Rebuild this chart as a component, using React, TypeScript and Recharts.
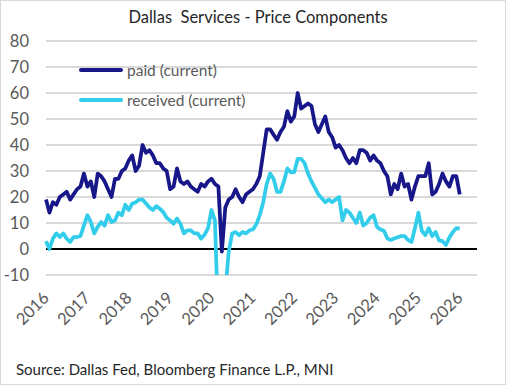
import React from "react";
import { LineChart, Line, XAxis, YAxis, CartesianGrid, ReferenceLine } from "recharts";

// monthly index: 0 = Jan 2016
const paid = [
  19, 14, 18, 17, 20, 21, 22, 19, 21, 23, 24, 29,
  24, 26, 20, 29, 28, 26, 23, 20, 27, 27, 30, 31,
  34, 36, 30, 32, 40, 37, 38, 36, 33, 33, 31, 30,
  23, 24, 31, 26, 25, 26, 24, 23, 22, 25, 24, 26,
  27, 25, 24, -1, 16, 19, 20, 23, 20, 18, 21, 22,
  23, 25, 28, 37, 46, 46, 44, 42, 45, 47, 53, 49,
  51, 60, 54, 55, 56, 55, 48, 45, 48, 51, 45, 43,
  39, 40, 38, 35, 33, 35, 33, 38, 38, 37, 34, 36,
  34, 33, 30, 28, 21, 25, 23, 29, 24, 25, 19, 24,
  28, 28, 28, 33, 21, 22, 25, 29, 26, 24, 28, 28,
  21,
];

const received = [
  3, 0, 4, 6, 4.6, 6, 4, 2.7, 4.6, 4.6, 5, 9,
  13, 10.4, 6, 8.5, 10.4, 9, 13, 10.4, 11, 14, 13, 17,
  15, 17.4, 18, 19, 19, 17.5, 16, 15, 16.5, 15.5, 14.2, 12,
  11, 9.7, 11.7, 9.7, 6, 7.2, 7.2, 6, 6, 4, 5.5, 8,
  15, 11, -30, -28, -16, -1, 6, 6.5, 5.3, 6.5, 6, 7.2,
  7.5, 9.5, 13, 18, 25, 29, 27, 22, 22, 26, 31, 29.5,
  29.6, 34.7, 34.7, 33, 29, 26, 23.5, 21, 19.5, 18, 19, 18,
  19, 20, 11, 15, 14, 12, 10, 14, 9, 10, 12, 13,
  8.5, 7.5, 7, 4, 3.5, 4, 4.5, 5, 5, 3.5, 2.7, 8,
  14, 7, 5.3, 8, 5, 6.5, 3.3, 3, 1.5, 4.5, 6.5, 8,
  7.8,
];

const yearTicks = [0, 12, 24, 36, 48, 60, 72, 84, 96, 108, 120];
const yTicks = [-10, 0, 10, 20, 30, 40, 50, 60, 70, 80];

const seriesNames = { paid: "paid (current)", received: "received (current)" };
const PAID_COLOR = "#17178a";
const RECEIVED_COLOR = "#33cdec";
const FONT = "Lato, 'Open Sans', sans-serif";

const data = paid.map((v, i) => ({ m: i, paid: v, received: received[i] }));

function YearTick(props: any) {
  const { x, y, payload } = props;
  const ax = x + 4;
  const ay = y + 24;
  return (
    <text
      x={ax}
      y={ay}
      transform={`rotate(-45, ${ax}, ${ay})`}
      textAnchor="end"
      fill="#595959"
      fontSize={16.5}
      fontFamily={FONT}
    >
      {2016 + payload.value / 12}
    </text>
  );
}

function LegendBox() {
  const rows = [
    { label: seriesNames.paid, color: PAID_COLOR },
    { label: seriesNames.received, color: RECEIVED_COLOR },
  ];
  return (
    <div style={{ position: "absolute", left: 78, top: 55 }}>
      {rows.map((r) => (
        <div key={r.label} style={{ display: "flex", alignItems: "center", height: 30 }}>
          <svg width={46} height={8} style={{ marginRight: 3 }}>
            <line x1={3} y1={4} x2={43} y2={4} stroke={r.color} strokeWidth={4} strokeLinecap="round" />
          </svg>
          <span style={{ fontFamily: FONT, fontSize: 15.5, color: "#595959" }}>{r.label}</span>
        </div>
      ))}
    </div>
  );
}

export default function App() {
  return (
    <div style={{ position: "absolute", left: 0, top: 0, width: 506, height: 385, background: "#fff" }}>
      <div
        style={{
          position: "absolute",
          top: 7,
          left: 0,
          width: 516,
          textAlign: "center",
          fontFamily: FONT,
          fontSize: 16.5,
          color: "#262626",
          whiteSpace: "pre",
        }}
      >
        {"Dallas  Services - Price Components"}
      </div>
      <LineChart width={506} height={385} data={data} margin={{ top: 41, right: 29, bottom: 40, left: 6 }}>
        <CartesianGrid vertical={false} stroke="#d9d9d9" strokeWidth={2} />
        <XAxis
          dataKey="m"
          type="number"
          domain={[0, 125]}
          ticks={yearTicks}
          interval={0}
          axisLine={false}
          tickLine={false}
          tickSize={0}
          tickMargin={0}
          height={70}
          tick={<YearTick />}
        />
        <YAxis
          type="number"
          domain={[-10, 80]}
          ticks={yTicks}
          allowDataOverflow
          axisLine={false}
          tickLine={false}
          tickSize={0}
          tickMargin={17}
          width={40}
          tick={{ fill: "#595959", fontSize: 16.5, fontFamily: FONT }}
        />
        <ReferenceLine y={0} stroke="#000" strokeWidth={2} />
        <Line
          type="linear"
          dataKey="paid"
          stroke={PAID_COLOR}
          strokeWidth={3.75}
          dot={false}
          isAnimationActive={false}
          strokeLinejoin="round"
        />
        <Line
          type="linear"
          dataKey="received"
          stroke={RECEIVED_COLOR}
          strokeWidth={3.75}
          dot={false}
          isAnimationActive={false}
          strokeLinejoin="round"
        />
      </LineChart>
      <LegendBox />
      <div
        style={{
          position: "absolute",
          left: 16,
          top: 360,
          fontFamily: FONT,
          fontSize: 15,
          color: "#262626",
          whiteSpace: "nowrap",
        }}
      >
        Source: Dallas Fed, Bloomberg Finance L.P., MNI
      </div>
      <div
        style={{
          position: "absolute",
          inset: 0,
          border: "1px solid #d9d9d9",
          pointerEvents: "none",
        }}
      />
    </div>
  );
}
